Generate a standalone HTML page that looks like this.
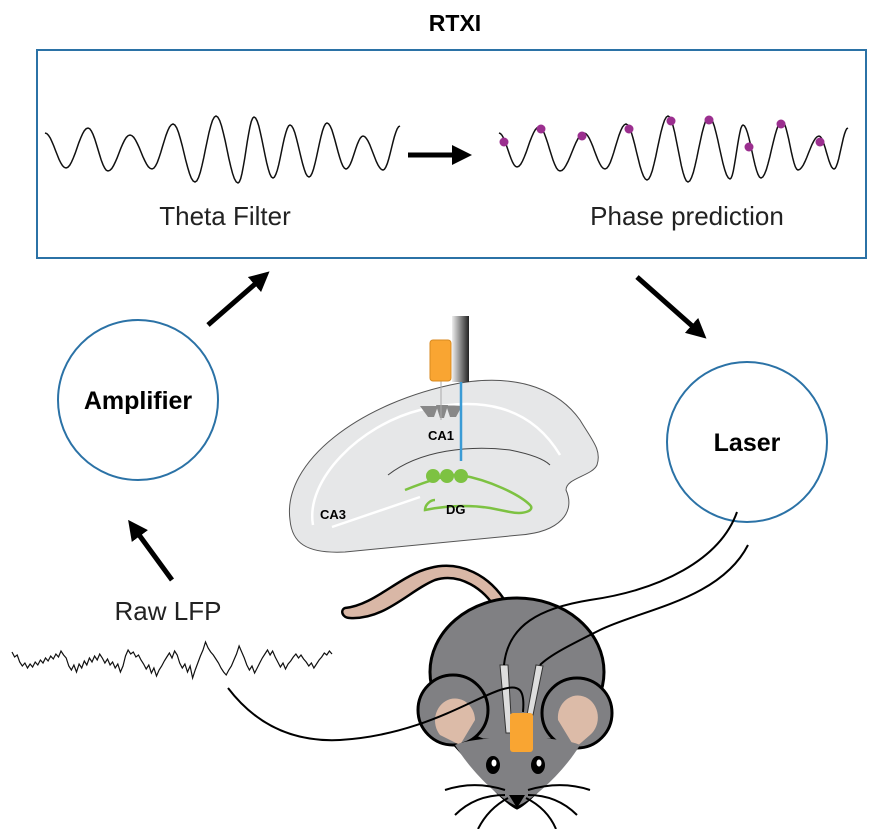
<!DOCTYPE html>
<html><head><meta charset="utf-8"><style>
html,body{margin:0;padding:0;background:#fff}
svg{display:block}
text{font-family:"Liberation Sans",sans-serif}
</style></head><body>
<svg id="fig" width="877" height="829" viewBox="0 0 877 829">
<defs>
<marker id="ah" markerWidth="4" markerHeight="4" refX="2" refY="2" orient="auto" markerUnits="strokeWidth"><path d="M0,0 L4,2 L0,4 Z" fill="#000"/></marker>
<linearGradient id="fib" x1="0" x2="1"><stop offset="0" stop-color="#eee"/><stop offset="1" stop-color="#222"/></linearGradient>
</defs>
<text x="455" y="31" font-size="23" font-weight="bold" text-anchor="middle">RTXI</text>
<rect x="37" y="50" width="829" height="208" fill="none" stroke="#2b72a6" stroke-width="2"/>
<g id="waves"></g>
<line x1="408" y1="155" x2="462" y2="155" stroke="#000" stroke-width="5" marker-end="url(#ah)"/>
<text x="225" y="225" font-size="26" fill="#222" text-anchor="middle">Theta Filter</text>
<text x="687" y="225" font-size="26" fill="#222" text-anchor="middle">Phase prediction</text>
<circle cx="138" cy="400" r="80" fill="#fff" stroke="#2b72a6" stroke-width="2"/>
<text x="138" y="409" font-size="25" font-weight="bold" text-anchor="middle">Amplifier</text>
<circle cx="747" cy="442" r="80" fill="#fff" stroke="#2b72a6" stroke-width="2"/>
<text x="747" y="451" font-size="25" font-weight="bold" text-anchor="middle">Laser</text>
<line x1="208" y1="325" x2="262" y2="278" stroke="#000" stroke-width="5" marker-end="url(#ah)"/>
<line x1="637" y1="277" x2="699" y2="332" stroke="#000" stroke-width="5" marker-end="url(#ah)"/>
<line x1="172" y1="580" x2="134" y2="528" stroke="#000" stroke-width="5" marker-end="url(#ah)"/>
<text x="168" y="620" font-size="26" fill="#222" text-anchor="middle">Raw LFP</text>
<g>
<path d="M290,520 C282,462 360,402 460,383 C522,373 560,392 580,420 C592,440 602,450 597,465 C592,476 566,478 566,490 C576,512 560,532 520,535 L345,552 C305,554 292,542 290,520 Z" fill="#e6e7e8" stroke="#555" stroke-width="1"/>
<path d="M313,525 C305,480 360,425 420,410 C480,396 530,405 560,455" fill="none" stroke="#fff" stroke-width="2.5"/>
<path d="M388,475 C420,450 470,445 510,450 C535,455 545,460 550,465" fill="none" stroke="#444" stroke-width="1"/>
<path d="M332,527 L420,497" fill="none" stroke="#fff" stroke-width="2.5"/>
<path d="M405,490 C430,480 450,474 460,475 C490,480 520,495 530,505 C535,510 525,515 510,512 L490,508 C470,505 450,505 425,510 C425,505 430,500 435,500" fill="none" stroke="#7dc242" stroke-width="2.5"/>
<circle cx="433" cy="476" r="7" fill="#7dc242"/><circle cx="447" cy="476" r="7" fill="#7dc242"/><circle cx="461" cy="476" r="7" fill="#7dc242"/>
<path d="M420,406 L428,417 L434,417 L438,406 Z M436,405 L440,418 L444,418 L448,405 Z M446,405 L450,417 L456,417 L462,406 Z" fill="#888"/>
<line x1="441" y1="380" x2="441" y2="420" stroke="#aaa" stroke-width="1"/>
<line x1="461" y1="382" x2="461" y2="461" stroke="#3a9bd5" stroke-width="2.5"/>
<rect x="430" y="340" width="21" height="41" rx="3" fill="#f9a532" stroke="#d88a20" stroke-width="1"/>
<rect x="452" y="316" width="17" height="66" fill="url(#fib)"/>
<text x="441" y="440" font-size="13" font-weight="bold" text-anchor="middle">CA1</text>
<text x="320" y="519" font-size="13" font-weight="bold">CA3</text>
<text x="446" y="514" font-size="13" font-weight="bold">DG</text>
</g>
<g id="lfp"></g>
<g>
<path d="M507,604 C490,575 460,560 430,568 C400,575 375,605 345,608 C340,610 342,618 350,618 C385,620 410,590 435,580 C460,572 485,590 495,608 Z" fill="#d9b7a6" stroke="#000" stroke-width="2.5"/>
<ellipse cx="517" cy="672" rx="87" ry="74" fill="#808083" stroke="#000" stroke-width="3"/>
<path d="M450,740 C470,760 500,800 517,808 C534,800 562,760 585,740 Z" fill="#808083" stroke="#000" stroke-width="3"/>
<circle cx="453" cy="710" r="35" fill="#808083" stroke="#000" stroke-width="3"/>
<circle cx="577" cy="713" r="35" fill="#808083" stroke="#000" stroke-width="3"/>
<path d="M440,735 A20,22 0 1 1 475,720 L460,745 Z" fill="#dcbba8"/>
<path d="M590,735 A20,22 0 1 0 558,720 L575,748 Z" fill="#dcbba8"/>
<path d="M455,745 C470,770 500,800 517,806 C534,800 565,770 580,745 C560,735 475,735 455,745 Z" fill="#808083"/>
<ellipse cx="493" cy="765" rx="7" ry="9" fill="#000"/><ellipse cx="494" cy="763" rx="2.5" ry="3.5" fill="#fff"/>
<ellipse cx="538" cy="765" rx="7" ry="9" fill="#000"/><ellipse cx="539" cy="763" rx="2.5" ry="3.5" fill="#fff"/>
<path d="M509,795 L525,795 L517,808 Z" fill="#000"/>
<path d="M505,790 C480,782 460,785 445,790 M505,795 C480,795 465,805 455,815 M508,798 C495,805 485,815 478,829 M528,790 C555,782 575,785 590,790 M528,795 C552,795 567,805 577,815 M526,798 C540,805 550,815 556,829" fill="none" stroke="#000" stroke-width="2"/>
<path d="M500,665 L506,733 L512,733 L508,665 Z" fill="#ddd" stroke="#333" stroke-width="1"/>
<path d="M536,665 L527,715 L533,715 L543,666 Z" fill="#ddd" stroke="#333" stroke-width="1"/>
<rect x="510" y="713" width="23" height="39" rx="3" fill="#f9a532"/>
</g>
<g fill="none" stroke="#000" stroke-width="2">
<path d="M228,688 C260,730 300,742 340,740 C420,735 470,700 500,690 C520,683 525,690 523,712"/>
<path d="M737,512 C720,560 660,590 590,600 C540,608 508,625 504,665"/>
<path d="M748,545 C720,600 640,610 600,630 C570,645 550,655 540,665"/>
</g>
</svg>
<script>
// theta-filter wave: successive extrema (x, y)
const thetaX = [45, 66, 88, 108, 130, 152, 173, 195, 216, 238, 254, 273, 290, 309, 327, 346, 363, 383, 400];
const thetaY = [133, 168, 128, 171, 135, 169, 124, 182, 116, 183, 117, 178, 125, 177, 123, 169, 136, 170, 126];
// phase-prediction wave: successive extrema (x, y)
const phaseX = [499, 517, 539, 560, 584, 605, 626, 647, 668, 688, 709, 730, 743, 761, 782, 798, 819, 834, 848];
const phaseY = [133, 167, 127, 171, 133, 169, 124, 180, 116, 182, 117, 179, 125, 178, 121, 170, 136, 169, 128];
// predicted phase markers
const dotX = [504, 541, 582, 629, 671, 709, 749, 781, 820];
const dotY = [142, 129, 136, 129, 121, 120, 147, 124, 142];
// raw LFP samples (deviation from baseline, px; positive = up)
const lfpValues = [8,3,5,-2,-6,-3,-8,-4,-7,-2,-5,0,-3,2,-1,4,1,6,3,9,5,2,-6,-10,-5,-12,-4,-8,-1,-5,2,-2,4,0,6,2,-3,1,-5,-2,-8,-4,-12,-6,4,10,6,8,3,5,0,-4,-9,-5,-13,-8,-16,-10,-6,-1,3,7,2,9,5,-3,-8,-4,-12,-6,-18,-10,-3,4,10,18,12,8,5,1,-3,-8,-12,-15,-10,-6,0,6,14,8,2,-5,-10,-6,-13,-8,-3,2,6,10,5,9,3,-2,-7,-3,-9,-4,-1,3,6,2,5,1,-2,-6,-3,-8,-4,0,3,7,5,9,6];

const NS = 'http://www.w3.org/2000/svg';
const waves = document.getElementById('waves');
function extremaPath(xs, ys){
  let d = 'M' + xs[0] + ',' + ys[0];
  for (let i = 1; i < xs.length; i++) {
    for (let s = 1; s <= 12; s++) {
      const f = s / 12;
      const x = xs[i-1] + (xs[i] - xs[i-1]) * f;
      const w = (1 - Math.cos(Math.PI * f)) / 2;
      const y = ys[i-1] + (ys[i] - ys[i-1]) * w;
      d += 'L' + x.toFixed(1) + ',' + y.toFixed(1);
    }
  }
  return d;
}
const w1 = document.createElementNS(NS, 'path');
w1.setAttribute('d', extremaPath(thetaX, thetaY));
w1.setAttribute('fill', 'none'); w1.setAttribute('stroke', '#111'); w1.setAttribute('stroke-width', '1.5');


waves.appendChild(w1);
const w2 = document.createElementNS(NS, 'path');
w2.setAttribute('d', extremaPath(phaseX, phaseY));
w2.setAttribute('fill', 'none'); w2.setAttribute('stroke', '#111'); w2.setAttribute('stroke-width', '1.5');


waves.appendChild(w2);
dotX.forEach((x, k) => {
  const dot = document.createElementNS(NS, 'circle');
  dot.setAttribute('cx', x); dot.setAttribute('cy', dotY[k]); dot.setAttribute('r', 4.5);
  dot.setAttribute('fill', '#9b2f8f');
  
  
  waves.appendChild(dot);
});
const lfpG = document.getElementById('lfp');
let d = '';
lfpValues.forEach((v, i) => {
  const x = 12 + 320 * i / (lfpValues.length - 1);
  const y = 660 - v;
  d += (i ? 'L' : 'M') + x.toFixed(1) + ',' + y.toFixed(1);
});
const lp = document.createElementNS(NS, 'path');
lp.setAttribute('d', d); lp.setAttribute('fill', 'none'); lp.setAttribute('stroke', '#111'); lp.setAttribute('stroke-width', '1.2');


lfpG.appendChild(lp);
</script>
</body></html>
